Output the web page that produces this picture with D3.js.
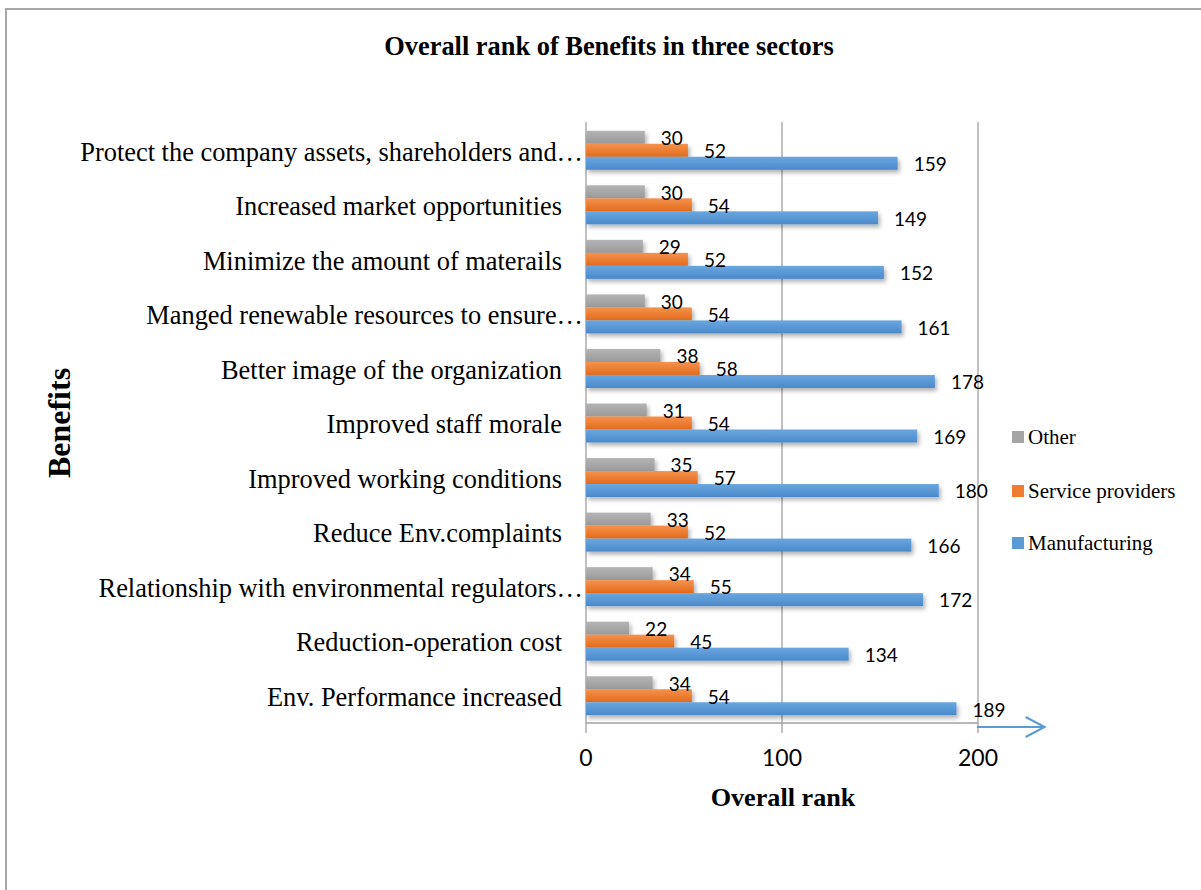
<!DOCTYPE html>
<html>
<head>
<meta charset="utf-8">
<script src="https://cdn.jsdelivr.net/npm/d3@7"></script>
<style>
  html, body { margin: 0; padding: 0; background: #fff; }
  svg { display: block; }
</style>
</head>
<body>
<svg id="chart" width="1201" height="890"></svg>
<script>
const categories = [
  "Protect the company assets, shareholders and…",
  "Increased market opportunities",
  "Minimize the amount of materails",
  "Manged renewable resources to ensure…",
  "Better image of the organization",
  "Improved staff morale",
  "Improved working conditions",
  "Reduce Env.complaints",
  "Relationship with environmental regulators…",
  "Reduction-operation cost",
  "Env. Performance increased"
];
const manufacturing = [159, 149, 152, 161, 178, 169, 180, 166, 172, 134, 189];
const serviceProviders = [52, 54, 52, 54, 58, 54, 57, 52, 55, 45, 54];
const other = [30, 30, 29, 30, 38, 31, 35, 33, 34, 22, 34];
const seriesNames = ["Other", "Service providers", "Manufacturing"];
const xTicks = [0, 100, 200];

const seriesValues = [other, serviceProviders, manufacturing];
const colors = {
  "Other": ["#b4b4b4", "#9a9a9a"],
  "Service providers": ["#f5924c", "#e26b1c"],
  "Manufacturing": ["#6aa7df", "#4a89cb"]
};
const legendColors = { "Other": "#a5a5a5", "Service providers": "#ed7d31", "Manufacturing": "#5b9bd5" };

const svg = d3.select("#chart");
const defs = svg.append("defs");
seriesNames.forEach((s, i) => {
  const g = defs.append("linearGradient").attr("id", "grad" + i)
    .attr("x1", 0).attr("y1", 0).attr("x2", 0).attr("y2", 1);
  g.append("stop").attr("offset", "0%").attr("stop-color", colors[s][0]);
  g.append("stop").attr("offset", "100%").attr("stop-color", colors[s][1]);
});
const f = defs.append("filter").attr("id", "shadow")
  .attr("x", "-5%").attr("y", "-30%").attr("width", "115%").attr("height", "180%");
f.append("feDropShadow").attr("dx", 2).attr("dy", 3).attr("stdDeviation", 2)
  .attr("flood-color", "#000").attr("flood-opacity", 0.3);

// frame
svg.append("rect").attr("x", 6).attr("y", 9).attr("width", 1300).attr("height", 1000)
  .attr("fill", "none").attr("stroke", "#a6a6a6").attr("stroke-width", 2);

const x = d3.scaleLinear().domain([0, 200]).range([586, 978]);
const y = d3.scaleBand().domain(categories).range([123, 723]).paddingInner(0.285).paddingOuter(0.1425);
const ySub = d3.scaleBand().domain(seriesNames).range([0, y.bandwidth()]);

const gridColor = "#a0a0a0";
// gridlines and axis
svg.append("g").selectAll("line").data(xTicks).join("line")
  .attr("x1", d => x(d)).attr("x2", d => x(d))
  .attr("y1", 122).attr("y2", 733)
  .attr("stroke", gridColor).attr("stroke-width", 1.3);
svg.append("line").attr("x1", x(0)).attr("x2", x(200)).attr("y1", 723).attr("y2", 723)
  .attr("stroke", gridColor).attr("stroke-width", 1.3);

// tick labels
svg.append("g").selectAll("text").data(xTicks).join("text")
  .attr("x", d => x(d)).attr("y", 766)
  .attr("text-anchor", "middle")
  .attr("font-family", "Lato, 'Open Sans', sans-serif").attr("font-size", 23)
  .attr("fill", "#000").text(d => d);

// bars
seriesNames.forEach((s, si) => {
  const vals = seriesValues[si];
  const g = svg.append("g");
  g.selectAll("rect").data(categories).join("rect")
    .attr("x", x(0))
    .attr("y", c => y(c) + ySub(s))
    .attr("width", (c, i) => x(vals[i]) - x(0))
    .attr("height", ySub.bandwidth())
    .attr("fill", "url(#grad" + si + ")")
    .attr("filter", "url(#shadow)");
});
// value labels
seriesNames.forEach((s, si) => {
  const vals = seriesValues[si];
  svg.append("g").selectAll("text").data(categories).join("text")
    .attr("x", (c, i) => x(vals[i]) + 16)
    .attr("y", c => y(c) + ySub(s) + ySub.bandwidth() / 2 + 1)
    .attr("dy", "0.36em")
    .attr("font-family", "Lato, 'Open Sans', sans-serif").attr("font-size", 19)
    .attr("fill", "#000")
    .text((c, i) => vals[i]);
});

// category labels
svg.append("g").selectAll("text").data(categories).join("text")
  .attr("x", c => c.endsWith("…") ? x(0) - 3 : x(0) - 24)
  .attr("y", c => y(c) + y.bandwidth() / 2 + 1)
  .attr("dy", "0.35em")
  .attr("text-anchor", "end")
  .attr("font-family", "'Liberation Serif', 'Times New Roman', serif").attr("font-size", 26.4)
  .attr("fill", "#000")
  .text(c => c);

// title
svg.append("text").attr("x", 609).attr("y", 55).attr("text-anchor", "middle")
  .attr("font-family", "'Liberation Serif', 'Times New Roman', serif").attr("font-weight", "bold")
  .attr("font-size", 26.4).text("Overall rank of Benefits in three sectors");
// x axis title
svg.append("text").attr("x", 783).attr("y", 806).attr("text-anchor", "middle")
  .attr("font-family", "'Liberation Serif', 'Times New Roman', serif").attr("font-weight", "bold")
  .attr("font-size", 26.2).text("Overall rank");
// y axis title
svg.append("text").attr("transform", "translate(70,423) rotate(-90)").attr("text-anchor", "middle")
  .attr("font-family", "'Liberation Serif', 'Times New Roman', serif").attr("font-weight", "bold")
  .attr("font-size", 32).text("Benefits");

// legend
const legendY = [437, 491, 543];
const lg = svg.append("g");
seriesNames.forEach((s, i) => {
  lg.append("rect").attr("x", 1012).attr("y", legendY[i] - 6).attr("width", 12).attr("height", 12)
    .attr("fill", legendColors[s]);
  lg.append("text").attr("x", 1028).attr("y", legendY[i]).attr("dy", "0.35em")
    .attr("font-family", "'Liberation Serif', 'Times New Roman', serif").attr("font-size", 21)
    .attr("fill", "#000").text(s);
});

// arrow annotation
const arrowColor = "#5b9bd5";
const ax0 = x(200) - 1, ax1 = x(234), ay = 727;
svg.append("line").attr("x1", ax0).attr("x2", ax1).attr("y1", ay).attr("y2", ay)
  .attr("stroke", arrowColor).attr("stroke-width", 2);
svg.append("path")
  .attr("d", `M${ax1 - 19},${ay - 10} L${ax1},${ay} L${ax1 - 19},${ay + 10}`)
  .attr("fill", "none").attr("stroke", arrowColor).attr("stroke-width", 2);
</script>
</body>
</html>
